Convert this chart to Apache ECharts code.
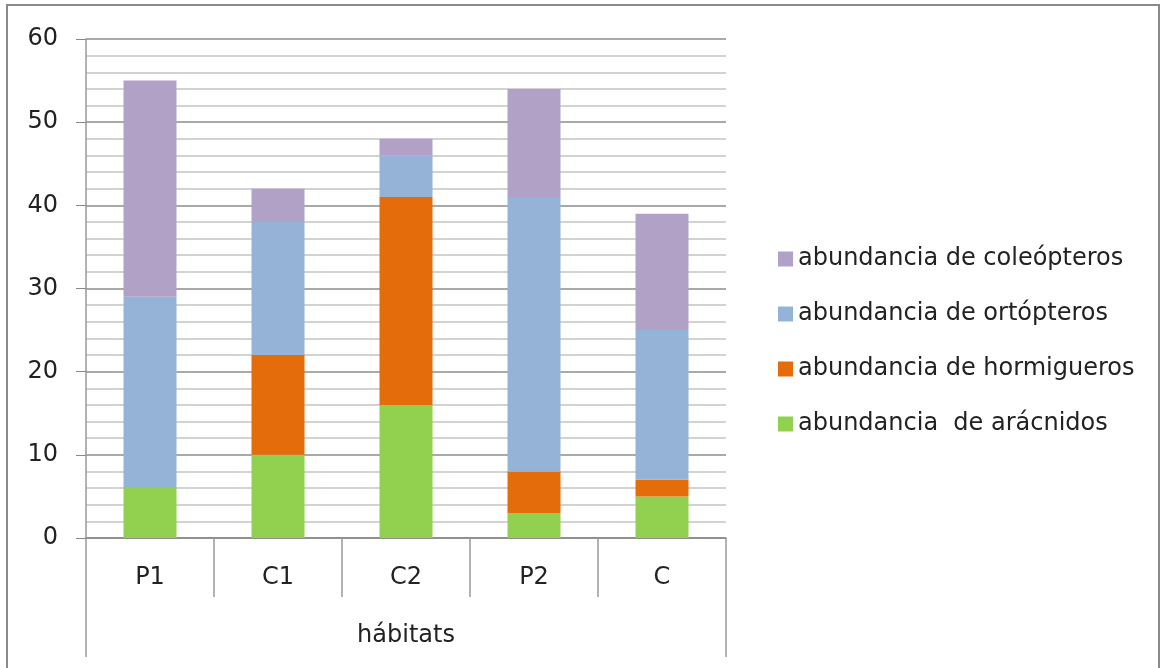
<!DOCTYPE html>
<html>
<head>
<meta charset="utf-8">
<script src="https://cdn.jsdelivr.net/npm/echarts@6/dist/echarts.min.js"></script>
<style>
  html, body { margin: 0; padding: 0; background: #fff; }
  #chart { width: 1166px; height: 668px; }
</style>
</head>
<body>
<div id="chart"></div>
<script>
// habitats on the x axis
var habitats = ['P1', 'C1', 'C2', 'P2', 'C'];
var yTicks = [0, 10, 20, 30, 40, 50, 60];

// abundances, stacked bottom to top
var aracnidos   = [6, 10, 16, 3, 5];
var hormigueros = [0, 12, 25, 5, 2];
var ortopteros  = [23, 16, 5, 33, 18];
var coleopteros = [26, 4, 2, 13, 14];

var names = ['abundancia  de arácnidos', 'abundancia de hormigueros', 'abundancia de ortópteros', 'abundancia de coleópteros'];
var colors = ['#92D050', '#E46C0A', '#95B3D7', '#B2A1C7'];
var values = [aracnidos, hormigueros, ortopteros, coleopteros];

var font = 'DejaVu Sans';
var myChart = echarts.init(document.getElementById('chart'));

var series = names.map(function (n, i) {
  return {
    name: n,
    type: 'bar',
    stack: 'total',
    barWidth: 53,
    itemStyle: { color: colors[i] },
    data: values[i]
  };
});

var option = {
  animation: false,
  graphic: [{
    type: 'rect',
    shape: { x: 7, y: 5, width: 1152, height: 720 },
    style: { fill: 'none', stroke: '#8a8a8a', lineWidth: 2 },
    silent: true
  }],
  grid: { left: 86, right: 440, top: 39, bottom: 130 },
  legend: {
    orient: 'vertical',
    left: 773,
    top: 242,
    icon: 'rect',
    itemWidth: 15,
    itemHeight: 15,
    itemGap: 31,
    data: names.slice().reverse(),
    textStyle: { fontFamily: font, fontSize: 24, color: '#222', padding: [0, 0, 0, 0] }
  },
  xAxis: [{
    type: 'category',
    data: habitats,
    position: 'bottom',
    axisLine: { lineStyle: { color: '#888', width: 1.5 } },
    axisTick: { show: true, interval: 0, length: 59, lineStyle: { color: '#999', width: 1.5 } },
    axisLabel: { margin: 28, fontFamily: font, fontSize: 24, color: '#222' }
  }, {
    type: 'category',
    data: ['hábitats'],
    position: 'bottom',
    axisLine: { show: false },
    axisTick: { show: true, length: 119, lineStyle: { color: '#999', width: 1.5 } },
    axisLabel: { margin: 86, fontFamily: font, fontSize: 24, color: '#222' }
  }],
  yAxis: {
    type: 'value',
    min: yTicks[0],
    max: yTicks[yTicks.length - 1],
    interval: 10,
    axisLine: { show: true, lineStyle: { color: '#999', width: 1.5 } },
    axisTick: { show: true, length: 10, lineStyle: { color: '#888' } },
    axisLabel: { margin: 28, fontFamily: font, fontSize: 24, color: '#222' },
    splitLine: { lineStyle: { color: '#8c8c8c', width: 1.5 } },
    minorTick: { show: false, splitNumber: 5 },
    minorSplitLine: { show: true, lineStyle: { color: '#c4c4c4', width: 1.5 } }
  },
  series: series
};
myChart.setOption(option);
</script>
</body>
</html>
